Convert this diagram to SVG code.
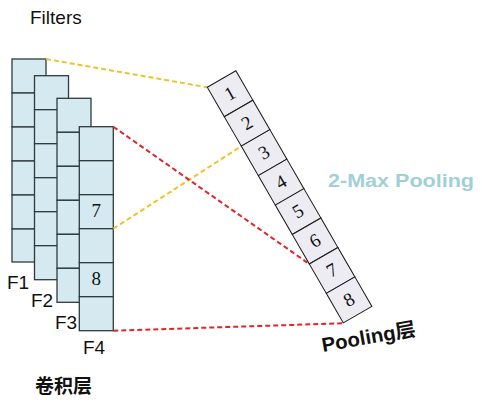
<svg xmlns="http://www.w3.org/2000/svg" width="482" height="405" viewBox="0 0 482 405">
<style>
.f rect{fill:#d4eaf0;stroke:#2e3b3d;stroke-width:1.3}
.p rect{fill:#ececf2;stroke:#1a1a1a;stroke-width:1}
.lbl{font-family:"Liberation Sans",Arial,sans-serif;font-size:19px;fill:#111}
.num{font-family:"Liberation Serif","Times New Roman",serif;font-size:19px;fill:#111;text-anchor:middle}
.y{stroke:#f0c22a;stroke-width:2;stroke-dasharray:5 3;fill:none}
.r{stroke:#e0252a;stroke-width:2;stroke-dasharray:5 3;fill:none}
</style>
<rect width="482" height="405" fill="#fff"/>
<text id="title" class="lbl" x="30" y="24">Filters</text>
<g id="F1" class="f" transform="translate(12,59)">
<rect x="0" y="0" width="34" height="34"/><rect x="0" y="34" width="34" height="34"/><rect x="0" y="68" width="34" height="34"/><rect x="0" y="102" width="34" height="34"/><rect x="0" y="136" width="34" height="34"/><rect x="0" y="170" width="34" height="33"/>
</g>
<g id="F2" class="f" transform="translate(34.5,75.7)">
<rect x="0" y="0" width="34" height="34"/><rect x="0" y="34" width="34" height="34"/><rect x="0" y="68" width="34" height="34"/><rect x="0" y="102" width="34" height="34"/><rect x="0" y="136" width="34" height="34"/><rect x="0" y="170" width="34" height="34"/>
</g>
<g id="F3" class="f" transform="translate(57,98.3)">
<rect x="0" y="0" width="34" height="34"/><rect x="0" y="34" width="34" height="34"/><rect x="0" y="68" width="34" height="34"/><rect x="0" y="102" width="34" height="34"/><rect x="0" y="136" width="34" height="34"/><rect x="0" y="170" width="34" height="34"/>
</g>
<g id="F4" class="f" transform="translate(79.3,126.7)">
<rect x="0" y="0" width="34" height="34"/><rect x="0" y="34" width="34" height="34"/><rect x="0" y="68" width="34" height="34"/><rect x="0" y="102" width="34" height="34"/><rect x="0" y="136" width="34" height="34"/><rect x="0" y="170" width="34" height="34"/>
<text class="num" x="17" y="90">7</text>
<text class="num" x="17" y="158">8</text>
</g>
<text class="lbl" x="7" y="289">F1</text>
<text class="lbl" x="31" y="307">F2</text>
<text class="lbl" x="55" y="329">F3</text>
<text class="lbl" x="83" y="354">F4</text>
<text id="conv" x="35" y="393" style="font-family:'Liberation Sans','Noto Sans CJK SC',sans-serif;font-size:19px;font-weight:bold;fill:#111">卷积层</text>
<g id="connectors">
<line class="y" x1="46" y1="59" x2="207.3" y2="87.3"/>
<line class="y" x1="113.3" y1="228.7" x2="241.3" y2="146.2"/>
<line class="r" x1="113.3" y1="126.7" x2="309.3" y2="264"/>
<line class="r" x1="113.3" y1="330.7" x2="343.3" y2="323.3"/>
</g>
<g id="pooling" class="p" transform="translate(207.3,87.3) rotate(-30)">
<rect x="0" y="0" width="33" height="34"/><rect x="0" y="34" width="33" height="34"/><rect x="0" y="68" width="33" height="34"/><rect x="0" y="102" width="33" height="34"/><rect x="0" y="136" width="33" height="34"/><rect x="0" y="170" width="33" height="34"/><rect x="0" y="204" width="33" height="34"/><rect x="0" y="238" width="33" height="34"/>
<text class="num" x="16.5" y="23">1</text>
<text class="num" x="16.5" y="57">2</text>
<text class="num" x="16.5" y="91">3</text>
<text class="num" x="16.5" y="125">4</text>
<text class="num" x="16.5" y="159">5</text>
<text class="num" x="16.5" y="193">6</text>
<text class="num" x="16.5" y="227">7</text>
<text class="num" x="16.5" y="261">8</text>
</g>
<text id="maxpool" x="328" y="187" textLength="146" lengthAdjust="spacingAndGlyphs" style="font-family:'Liberation Sans',Arial,sans-serif;font-size:19px;font-weight:bold;fill:#9fd0d8">2-Max Pooling</text>
<text id="poollabel" transform="translate(323,352) rotate(-10)" textLength="95" lengthAdjust="spacingAndGlyphs" style="font-family:'Liberation Sans','Noto Sans CJK SC',sans-serif;font-size:20px;font-weight:bold;fill:#111">Pooling层</text>
</svg>
